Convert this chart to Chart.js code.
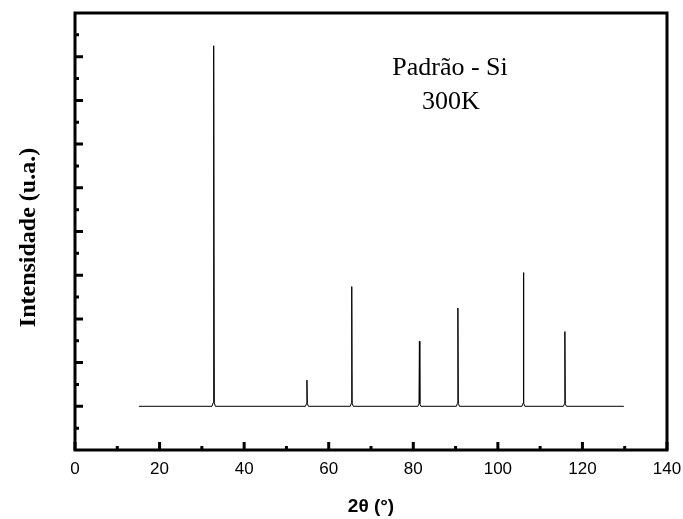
<!DOCTYPE html>
<html>
<head>
<meta charset="utf-8">
<script src="https://cdn.jsdelivr.net/npm/chart.js@4/dist/chart.umd.min.js"></script>
<style>
  html, body { margin: 0; padding: 0; background: #fff; }
  #wrap { width: 683px; height: 519px; }
</style>
</head>
<body>
<div id="wrap"><canvas id="chart_xrd"></canvas></div>
<script>
// Si standard pattern, 300 K
const twoTheta = [
    15.1, 32.4, 32.65, 32.8, 32.95, 33.2,
    54.5, 54.75, 54.85, 54.95, 55.2,
    65.1, 65.35, 65.45, 65.55, 65.8,
    81.1, 81.35, 81.45, 81.55, 81.8,
    90.2, 90.45, 90.55, 90.65, 90.9,
    105.7, 105.95, 106.05, 106.15, 106.4,
    115.5, 115.75, 115.85, 115.95, 116.2,
    129.8
];
const intensity = [
    1.0, 1.0, 1.08, 9.25, 1.08, 1.0,
    1.0, 1.06, 1.60, 1.06, 1.0,
    1.0, 1.07, 3.74, 1.07, 1.0,
    1.0, 1.06, 2.49, 1.06, 1.0,
    1.0, 1.07, 3.25, 1.07, 1.0,
    1.0, 1.07, 4.06, 1.07, 1.0,
    1.0, 1.06, 2.71, 1.06, 1.0,
    1.0
];
const xTicks = [0, 20, 40, 60, 80, 100, 120, 140];
const xMinor = [10, 30, 50, 70, 90, 110, 130];
const yMajor = [1, 2, 3, 4, 5, 6, 7, 8, 9];
const yMinor = [0.5, 1.5, 2.5, 3.5, 4.5, 5.5, 6.5, 7.5, 8.5, 9.5];
const noteLines = ['Padrão - Si', '300K'];

// frame, inward ticks and the sample note
const framePlugin = {
    id: 'frame',
    afterDraw(chart) {
        const ctx = chart.ctx;
        const a = chart.chartArea;
        const sx = chart.scales.x, sy = chart.scales.y;
        ctx.save();
        ctx.strokeStyle = '#000';
        ctx.lineWidth = 3;
        ctx.strokeRect(a.left, a.top, a.right - a.left, a.bottom - a.top);

        ctx.beginPath();
        xTicks.forEach(v => {
            const px = sx.getPixelForValue(v);
            ctx.moveTo(px, a.bottom); ctx.lineTo(px, a.bottom - 8);
        });
        yMajor.forEach(v => {
            const py = sy.getPixelForValue(v);
            ctx.moveTo(a.left, py); ctx.lineTo(a.left + 8, py);
        });
        ctx.stroke();
        ctx.beginPath();
        xMinor.forEach(v => {
            const px = sx.getPixelForValue(v);
            ctx.moveTo(px, a.bottom); ctx.lineTo(px, a.bottom - 4);
        });
        yMinor.forEach(v => {
            const py = sy.getPixelForValue(v);
            ctx.moveTo(a.left, py); ctx.lineTo(a.left + 4, py);
        });
        ctx.stroke();

        ctx.fillStyle = '#000';
        ctx.font = '26px "Liberation Serif", "Times New Roman", serif';
        ctx.textAlign = 'center';
        ctx.textBaseline = 'alphabetic';
        ctx.fillText(noteLines[0], 450, 75);
        ctx.fillText(noteLines[1], 451, 109);
        ctx.restore();
    }
};

document.chartXrd = new Chart(document.getElementById('chart_xrd'), {
    type: 'line',
    data: {
        datasets: [{
            data: twoTheta.map((x, i) => ({ x: x, y: intensity[i] })),
            borderColor: '#000',
            borderWidth: 1,
            pointRadius: 0,
            tension: 0,
            fill: false
        }]
    },
    options: {
        responsive: true,
        maintainAspectRatio: false,
        animation: false,
        layout: { padding: { left: 0, top: 13, right: 16, bottom: 0 } },
        scales: {
            x: {
                type: 'linear',
                min: 0,
                max: 140,
                afterBuildTicks: scale => { scale.ticks = xTicks.map(v => ({ value: v })); },
                afterFit: scale => {
                    scale.height = 69;
                    scale.paddingLeft = 0;
                    scale.paddingRight = 0;
                },
                grid: { display: false, drawTicks: false },
                border: { display: false },
                ticks: {
                    padding: 9,
                    color: '#000',
                    font: { family: '"Liberation Sans", Arial, sans-serif', size: 17 }
                },
                title: {
                    display: true,
                    text: '2θ (°)',
                    color: '#000',
                    padding: { top: 0, bottom: 1 },
                    font: { family: '"Liberation Sans", Arial, sans-serif', size: 19, weight: 'bold' }
                }
            },
            y: {
                type: 'linear',
                min: 0,
                max: 10,
                afterFit: scale => {
                    scale.width = 75;
                    scale.paddingTop = 0;
                    scale.paddingBottom = 0;
                },
                grid: { display: false, drawTicks: false },
                border: { display: false },
                ticks: { display: false },
                title: {
                    display: true,
                    text: 'Intensidade (u.a.)\u2002',
                    color: '#000',
                    padding: { top: 14, bottom: 0 },
                    font: { family: '"Liberation Serif", "Times New Roman", serif', size: 24, weight: 'bold' }
                }
            }
        },
        plugins: {
            legend: { display: false },
            tooltip: { enabled: false }
        }
    },
    plugins: [framePlugin]
});
</script>
</body>
</html>
